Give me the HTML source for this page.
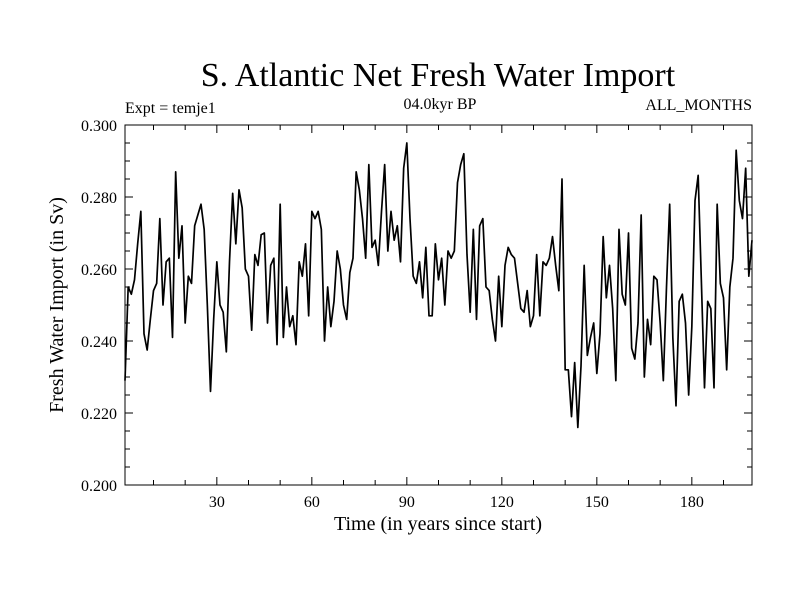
<!DOCTYPE html>
<html><head><meta charset="utf-8"><style>
body{margin:0;background:#fff;}
svg text{font-family:"Liberation Serif",serif;fill:#000;}
</style></head><body>
<svg id="chart" width="800" height="600" xmlns="http://www.w3.org/2000/svg">
<rect width="800" height="600" fill="#fff"/>
<text x="438" y="86" font-size="34" text-anchor="middle">S. Atlantic Net Fresh Water Import</text>
<text x="125" y="113" font-size="16">Expt = temje1</text>
<text x="440" y="109" font-size="16" text-anchor="middle">04.0kyr BP</text>
<text x="752" y="110" font-size="16" text-anchor="end">ALL_MONTHS</text>
<text x="438" y="530" font-size="20" text-anchor="middle">Time (in years since start)</text>
<text transform="translate(63,305) rotate(-90)" font-size="20" text-anchor="middle">Fresh Water Import (in Sv)</text>
<g id="axes"></g>
<path id="series" fill="none" stroke="#000" stroke-width="1.7" stroke-linejoin="round"/>
</svg>
<script>
const years = Array.from({length:199},(_,i)=>i+1);
const values = [
0.229,0.255,0.253,0.257,0.267,0.276,0.242,0.2375,0.246,0.254,
0.256,0.274,0.250,0.262,0.263,0.241,0.287,0.263,0.272,0.245,
0.258,0.256,0.272,0.275,0.278,0.271,0.250,0.226,0.246,0.262,
0.250,0.248,0.237,0.262,0.281,0.267,0.282,0.277,0.260,0.258,
0.243,0.264,0.261,0.2695,0.270,0.245,0.261,0.263,0.239,0.278,
0.241,0.255,0.244,0.247,0.239,0.262,0.258,0.267,0.247,0.276,
0.274,0.276,0.271,0.240,0.255,0.244,0.251,0.265,0.260,0.250,
0.246,0.259,0.263,0.287,0.282,0.274,0.263,0.289,0.266,0.268,
0.261,0.276,0.289,0.265,0.276,0.268,0.272,0.262,0.288,0.295,
0.274,0.258,0.256,0.262,0.252,0.266,0.247,0.247,0.267,0.257,
0.263,0.250,0.265,0.263,0.265,0.284,0.289,0.292,0.264,0.248,
0.271,0.246,0.272,0.274,0.255,0.254,0.246,0.240,0.258,0.244,
0.261,0.266,0.264,0.263,0.256,0.249,0.248,0.254,0.244,0.247,
0.264,0.247,0.262,0.261,0.263,0.269,0.261,0.254,0.285,0.232,
0.232,0.219,0.234,0.216,0.233,0.261,0.236,0.241,0.245,0.231,
0.242,0.269,0.252,0.261,0.249,0.229,0.271,0.253,0.250,0.270,
0.238,0.235,0.245,0.275,0.230,0.246,0.239,0.258,0.257,0.245,
0.229,0.255,0.278,0.241,0.222,0.251,0.253,0.245,0.225,0.244,
0.279,0.286,0.257,0.227,0.251,0.249,0.227,0.278,0.256,0.252,
0.232,0.255,0.263,0.293,0.279,0.274,0.288,0.258,0.268];
const xTicks = [30,60,90,120,150,180];
const yTicks = [0.200,0.220,0.240,0.260,0.280,0.300];
const X0=125,X1=752,Y0=125,Y1=485, xMin=1,xMax=199,yMin=0.2,yMax=0.3;
const sx=v=>X0+(v-xMin)/(xMax-xMin)*(X1-X0);
const sy=v=>Y1-(v-yMin)/(yMax-yMin)*(Y1-Y0);
const NS="http://www.w3.org/2000/svg";
const g=document.getElementById('axes');
function mk(tag,attrs){const e=document.createElementNS(NS,tag);for(const k in attrs)e.setAttribute(k,attrs[k]);g.appendChild(e);return e;}
const frame=mk('rect',{x:X0,y:Y0,width:X1-X0,height:Y1-Y0,fill:'none',stroke:'#000','stroke-width':1});


for(let t=10;t<=190;t+=10){
  const x=sx(t), L=(t%30===0)?8:5;
  const a=mk('line',{x1:x,x2:x,y1:Y1,y2:Y1-L,stroke:'#000'});
  
  
  const b=mk('line',{x1:x,x2:x,y1:Y0,y2:Y0+L,stroke:'#000'});
  
  
}
xTicks.forEach(t=>{
  const tx=mk('text',{x:sx(t),y:Y1+22,'font-size':16,'text-anchor':'middle'});
  tx.textContent=t;
  
  
});
for(let i=0;i<=20;i++){
  const v=0.2+i*0.005, y=sy(v), L=(i%4===0)?8:5;
  const a=mk('line',{x1:X0,x2:X0+L,y1:y,y2:y,stroke:'#000'});
  
  
  const b=mk('line',{x1:X1,x2:X1-L,y1:y,y2:y,stroke:'#000'});
  
  
}
yTicks.forEach(v=>{
  const tx=mk('text',{x:X0-8,y:sy(v)+6,'font-size':16,'text-anchor':'end'});
  tx.textContent=v.toFixed(3);
  
  
});
document.getElementById('series').setAttribute('d',values.map((v,i)=>(i?'L':'M')+sx(years[i]).toFixed(2)+','+sy(v).toFixed(2)).join(''));
</script>
</body></html>
